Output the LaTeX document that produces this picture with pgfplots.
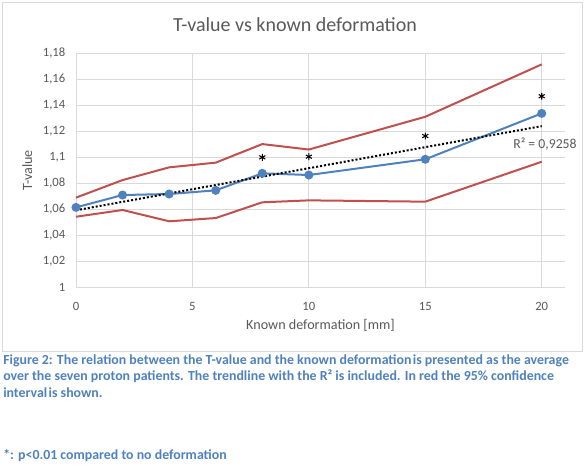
\documentclass[border=0pt]{standalone}
\usepackage{fontspec}
\setmainfont{Carlito}
\usepackage{pgfplots}
\pgfplotsset{compat=1.18}
\definecolor{txtgray}{HTML}{595959}
\definecolor{gridgray}{HTML}{D9D9D9}
\definecolor{serblue}{HTML}{4F81BD}
\definecolor{serred}{HTML}{C0504D}
\definecolor{capblue}{HTML}{4F81BD}
\begin{document}
\begin{tikzpicture}
\path[use as bounding box] (-57pt,-140.8pt) rectangle (384pt,215.5pt);
\draw[gridgray, line width=0.75pt] (-54.75pt,213.9pt) rectangle (379.5pt,-47.8pt);
\begin{axis}[
  at={(0,0)}, anchor=south west,
  scale only axis, width=366.75pt, height=175.5pt,
  xmin=0, xmax=21, ymin=1, ymax=1.18,
  xtick={0,5,10,15,20},
  ytick={1,1.02,1.04,1.06,1.08,1.1,1.12,1.14,1.16,1.18},
  /pgf/number format/assume math mode=true,
  /pgf/number format/use comma,
  /pgf/number format/fixed,
  /pgf/number format/precision=2,
  xticklabel style={yshift=-8pt},
  yticklabel style={xshift=-4.5pt},
  ticklabel style={font=\fontsize{9.5}{11}\selectfont, text=txtgray},
  major tick length=0pt,
  axis line style={draw=none},
  grid=major,
  major grid style={gridgray, line width=0.75pt},
  xlabel={Known deformation [mm]},
  ylabel={T-value},
  label style={font=\fontsize{10.6}{12}\selectfont, text=txtgray},
  xlabel style={at={(axis description cs:0.5,-0.165)}, anchor=mid},
  ylabel style={at={(axis description cs:-0.096,0.5)}, anchor=mid},
  clip=false,
]
% upper 95% CI
\addplot[serred, line width=1.5pt] coordinates {
  (0,1.069) (2,1.0825) (4,1.0923) (6,1.0959) (8,1.1102) (10,1.106) (15,1.1312) (20,1.1715)};
% lower 95% CI
\addplot[serred, line width=1.5pt] coordinates {
  (0,1.0543) (2,1.0595) (4,1.0508) (6,1.0533) (8,1.0654) (10,1.0669) (15,1.0659) (20,1.0966)};
% mean
\addplot[serblue, line width=1.5pt, mark=*, mark size=2.6pt, mark options={fill=serblue, draw=serblue}] coordinates {
  (0,1.0615) (2,1.071) (4,1.0718) (6,1.0746) (8,1.0877) (10,1.0864) (15,1.0985) (20,1.1338)};
% trendline
\addplot[black, line width=1.5pt, dash pattern=on 1.5pt off 1.5pt] coordinates {
  (0,1.0593) (20,1.1240)};
% significance markers
\addplot[only marks, black, mark=asterisk, mark size=2.6pt, mark options={line width=0.8pt}] coordinates {
  (8,1.100) (10,1.1005) (15,1.1164) (20,1.147)};
\node[text=txtgray, font=\fontsize{10.3}{12}\selectfont] at (axis cs:20.14,1.1102) {R² = 0,9258};
\end{axis}
\node[text=txtgray, font=\fontsize{15}{18}\selectfont] at (164.25pt,196.7pt) {T-value vs known deformation};
\begin{scope}[every node/.style={anchor=mid west, inner sep=0pt, text=capblue, font=\fontsize{10.4}{12}\selectfont\bfseries}]
\node at (-54.75pt,-55.3pt) {Figure 2: The relation between the T-value and the known deformation\hspace{0.1em}is presented as the average};
\node at (-54.75pt,-67.8pt) {over the seven proton patients. The trendline with the R² is included. In red the 95\% confidence};
\node at (-54.75pt,-80.0pt) {interval\hspace{0.1em}is shown.};
\node at (-54.75pt,-126.5pt) {*: p<0.01 compared to no deformation};
\end{scope}
\end{tikzpicture}
\end{document}
